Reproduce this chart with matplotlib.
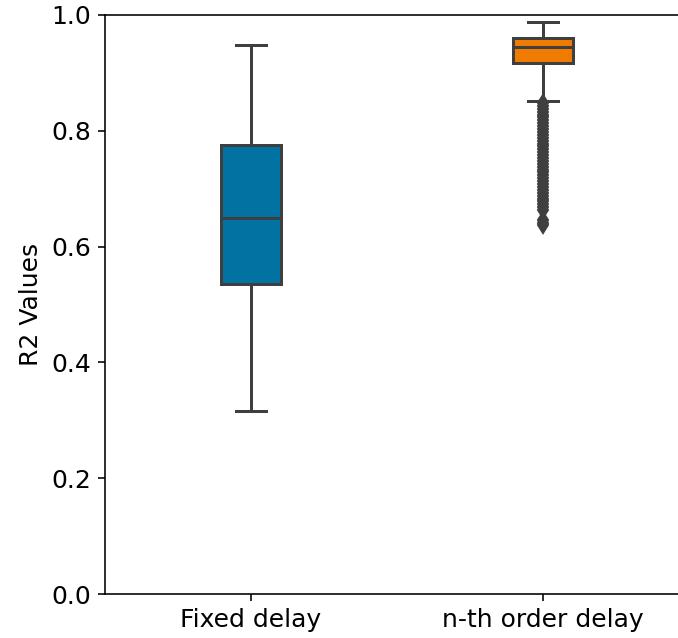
import matplotlib
matplotlib.use('Agg')
from matplotlib import pyplot as plt

# box statistics
categories = ['Fixed delay', 'n-th order delay']
medians = [0.649, 0.945]
q1 = [0.535, 0.917]
q3 = [0.775, 0.960]
whis_lo = [0.316, 0.851]
whis_hi = [0.948, 0.988]
fliers_fixed = []
fliers_nth = [0.848, 0.843, 0.838, 0.833, 0.828, 0.823, 0.818, 0.813, 0.808,
              0.803, 0.798, 0.793, 0.788, 0.783, 0.778, 0.773, 0.768, 0.763,
              0.758, 0.753, 0.748, 0.743, 0.738, 0.733, 0.728, 0.723, 0.718,
              0.713, 0.708, 0.703, 0.698, 0.693, 0.688, 0.683, 0.678, 0.674,
              0.669, 0.663, 0.646, 0.641, 0.637]
colors = ['#0272a2', '#ef7b00']
line_color = '#3f3f3f'

stats = []
for i, name in enumerate(categories):
    stats.append({
        'label': name,
        'med': medians[i],
        'q1': q1[i],
        'q3': q3[i],
        'whislo': whis_lo[i],
        'whishi': whis_hi[i],
        'fliers': [fliers_fixed, fliers_nth][i],
    })

fig = plt.figure(figsize=(678 / 144, 638 / 144), dpi=144)
ax = fig.add_axes([105 / 678, 1 - 594 / 638, 584 / 678, 579 / 638])

lw = 1.5
parts = ax.bxp(stats, positions=[0, 1], widths=0.205, patch_artist=True,
               boxprops=dict(edgecolor=line_color, linewidth=lw),
               medianprops=dict(color=line_color, linewidth=lw),
               whiskerprops=dict(color=line_color, linewidth=lw),
               capprops=dict(color=line_color, linewidth=lw),
               flierprops=dict(marker='d', markerfacecolor=line_color,
                               markeredgecolor=line_color, markersize=6))
for box, c in zip(parts['boxes'], colors):
    box.set_facecolor(c)

# the reference is cut off on the right, no right spine visible
ax.spines['right'].set_visible(False)
ax.set_xlim(-0.5, 1.5)
ax.set_ylim(0, 1)
ax.set_yticks([0.0, 0.2, 0.4, 0.6, 0.8, 1.0])
ax.set_xticks([0, 1])
ax.set_xticklabels(categories, fontsize=12.5)
ax.tick_params(axis='y', labelsize=12.5)
ax.set_ylabel('R2 Values', fontsize=12.5)

fig.savefig('out.png', dpi=144)
